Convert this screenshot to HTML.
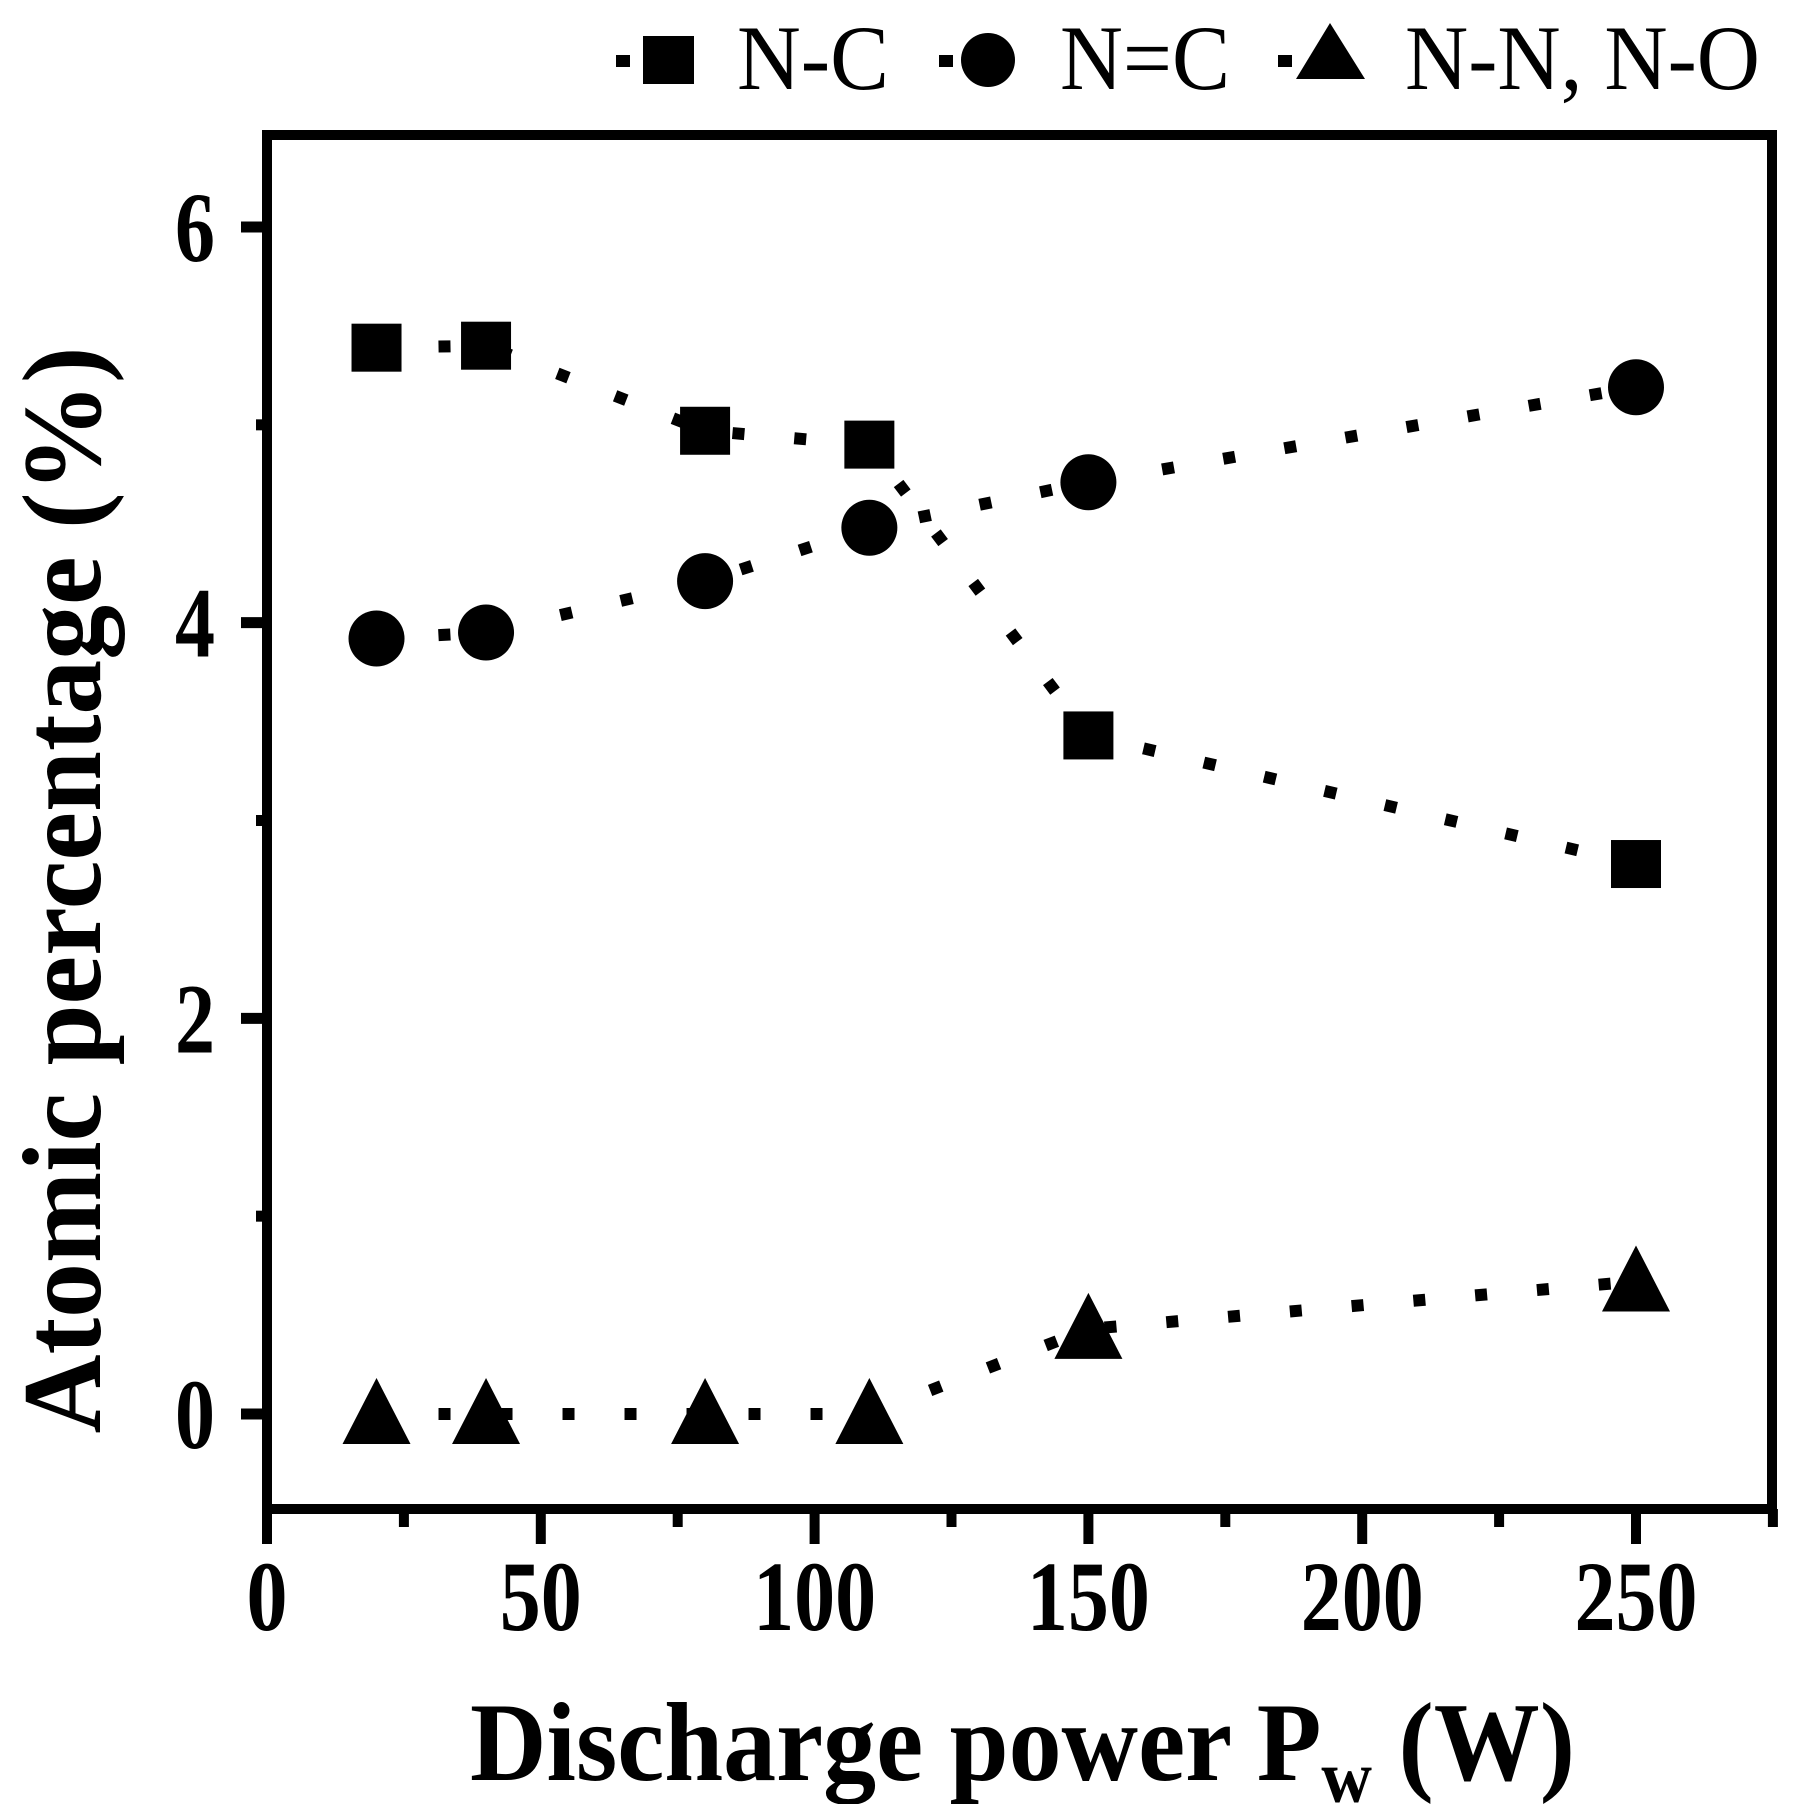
<!DOCTYPE html>
<html><head><meta charset="utf-8"><style>html,body{margin:0;padding:0;background:#fff}svg{display:block}</style></head>
<body>
<svg width="1797" height="1804" viewBox="0 0 1797 1804" xmlns="http://www.w3.org/2000/svg" font-family="'Liberation Serif', serif">
<g id="plot"></g>
<script>
const xValues=[20,40,80,110,150,250];
const ncValues=[5.39,5.4,4.97,4.9,3.43,2.78];
const ndcValues=[3.92,3.95,4.21,4.48,4.71,5.19];
const nnValues=[0,0,0,0,0.43,0.67];
const xTicks=[0,50,100,150,200,250];
const yTicks=[0,2,4,6];
const X0=267,X1=1772,Y0=135,Y1=1509;
const xs=v=>267+v*(1636-267)/250;
const ys=v=>1414-v*(1414-227)/6;
const NS='http://www.w3.org/2000/svg';
const g=document.getElementById('plot');
function mk(t,a,p){const e=document.createElementNS(NS,t);for(const k in a)e.setAttribute(k,a[k]);(p||g).appendChild(e);return e;}
let fr=mk('rect',{x:X0,y:Y0,width:X1-X0,height:Y1-Y0,fill:'none',stroke:'#000','stroke-width':10});


for(let v=0;v<=275;v+=25){const maj=v%50===0;const t=mk('line',{x1:xs(v),x2:xs(v),y1:Y1,y2:Y1+(maj?35:18),stroke:'#000','stroke-width':10});

}
xTicks.forEach(v=>{const s=String(v);const t=mk('text',{x:xs(v),y:1630,'text-anchor':'middle','font-size':100,'font-weight':'bold',textLength:s.length*41,lengthAdjust:'spacingAndGlyphs'});t.textContent=s;

});
for(let v=0;v<=6;v++){const maj=v%2===0;const t=mk('line',{x1:X0,x2:X0-(maj?26:11),y1:ys(v),y2:ys(v),stroke:'#000','stroke-width':11});

}
yTicks.forEach(v=>{const t=mk('text',{x:215,y:ys(v)+34,'text-anchor':'end','font-size':100,'font-weight':'bold',textLength:40,lengthAdjust:'spacingAndGlyphs'});t.textContent=v;

});
function series(vals,name,shape){
 const pts=xValues.map((x,i)=>xs(x)+','+ys(vals[i])).join(' ');
 const l=mk('polyline',{points:pts,fill:'none',stroke:'#000','stroke-width':12,'stroke-dasharray':'12 50'});
 
 
 xValues.forEach((x,i)=>{const cx=xs(x),cy=ys(vals[i]);let m;
  if(shape==='sq')m=mk('rect',{x:cx-25,y:cy-24,width:50,height:48});
  else if(shape==='ci')m=mk('ellipse',{cx:cx,cy:cy,rx:28,ry:28});
  else m=mk('polygon',{points:`${cx},${cy-36} ${cx+34},${cy+30} ${cx-34},${cy+30}`});
  
  });
}
series(ncValues,'n-c','sq');
series(ndcValues,'n-double-c','ci');
series(nnValues,'n-n-n-o','tr');
</script>
<text x="470" y="1780" font-size="112" font-weight="bold" textLength="1105" lengthAdjust="spacingAndGlyphs">Discharge power P<tspan font-size="74" dy="22">w</tspan><tspan dy="-22"> (W)</tspan></text>
<text transform="translate(100,890) rotate(-90)" text-anchor="middle" font-size="112" font-weight="bold" textLength="1087" lengthAdjust="spacingAndGlyphs">Atomic percentage (%)</text>
<g font-size="92">
 <rect x="616" y="55" width="14" height="12"/><rect x="643" y="36" width="51" height="48"/>
 <text x="737" y="89" textLength="152" lengthAdjust="spacingAndGlyphs">N-C</text>
 <rect x="939" y="55" width="14" height="12"/><ellipse cx="988" cy="60" rx="27" ry="27"/>
 <text x="1060" y="89" textLength="170" lengthAdjust="spacingAndGlyphs">N=C</text>
 <rect x="1278" y="55" width="14" height="12"/><polygon points="1330,23 1365,79 1296,79"/>
 <text x="1405" y="89" textLength="355" lengthAdjust="spacingAndGlyphs">N-N, N-O</text>
</g>
</svg>
</body></html>
